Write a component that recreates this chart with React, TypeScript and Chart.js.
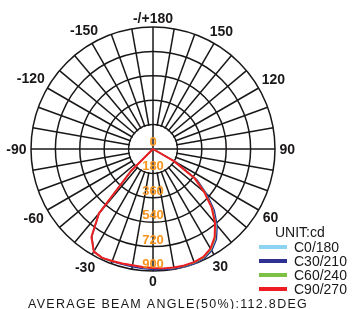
import React, { useEffect, useRef } from 'react';
import { Chart, registerables } from 'chart.js';

Chart.register(...registerables);

// Gamma angle of every radar category (0 at the bottom, negatives to the left)
const GAMMA_LABELS = [
  0, -5, -10, -15, -20, -25, -30, -35, -40, -45, -50, -55, -60, -65, -70, -75, -80, -85, -90,
  -95, -100, -105, -110, -115, -120, -125, -130, -135, -140, -145, -150, -155, -160, -165, -170, -175, -180,
  175, 170, 165, 160, 155, 150, 145, 140, 135, 130, 125, 120, 115, 110, 105, 100, 95, 90,
  85, 80, 75, 70, 65, 60, 55, 50, 45, 40, 35, 30, 25, 20, 15, 10, 5,
];

// Angle axis labels
const ANGLE_TICK_GAMMA = [0, -30, -60, -90, -120, -150, -180, 150, 120, 90, 60, 30];
const ANGLE_TICK_TEXT = ['0', '-30', '-60', '-90', '-120', '-150', '-/+180', '150', '120', '90', '60', '30'];

// Intensity axis (cd)
const RADIAL_MAX = 900;
const RADIAL_STEP = 180;

// Lit gamma ranges
const LEFT_GAMMA = [0, -5, -10, -15, -20, -25, -30, -35, -40, -45, -50];
const RIGHT_GAMMA = [5, 10, 15, 20, 25, 30, 35, 40, 45, 50, 55, 60, 65];

// Series values (cd)
const C0_LEFT = [886, 880, 876, 878, 881, 886, 872, 788, 622, 228, 0];
const C0_RIGHT = [891, 896, 898, 898, 889, 861, 808, 728, 628, 508, 388, 190, 0];
const C30_LEFT = [890, 886, 882, 882, 884, 887, 872, 786, 618, 225, 0];
const C30_RIGHT = [893, 898, 899, 899, 893, 867, 816, 738, 640, 520, 398, 198, 0];
const C60_LEFT = [880, 875, 872, 875, 880, 886, 874, 790, 626, 230, 0];
const C60_RIGHT = [886, 891, 893, 893, 884, 856, 801, 721, 621, 502, 382, 184, 0];
const C90_LEFT = [878, 873, 870, 874, 879, 886, 874, 792, 620, 232, 0];
const C90_RIGHT = [884, 888, 889, 888, 878, 848, 793, 712, 612, 492, 372, 175, 0];

const SERIES_NAMES = ['C0/180', 'C30/210', 'C60/240', 'C90/270'];
const SERIES_COLORS = ['#8dd4f2', '#2e3192', '#7cc143', '#ee1d23'];
const SERIES_WIDTHS = [1.3, 1.3, 1.3, 2];
const SERIES_ORDER = [3, 2, 1, 0];

const UNIT_TEXT = 'UNIT:cd';
const FOOTER_TEXT = 'AVERAGE BEAM ANGLE(50%):112.8DEG';

const GRID_COLOR = '#1a1718';
const GRID_WIDTH = 1.5;
const TICK_COLOR = '#f7941d';
const FONT = '"Liberation Sans", Arial, sans-serif';

function buildSeries(left: number[], right: number[]): number[] {
  return GAMMA_LABELS.map((g) => {
    if (g <= 0) {
      const k = LEFT_GAMMA.indexOf(g);
      return k >= 0 ? left[k] : 0;
    }
    const k = RIGHT_GAMMA.indexOf(g);
    return k >= 0 ? right[k] : 0;
  });
}

const polarDecor = {
  id: 'polarDecor',
  beforeDatasetsDraw(chart: any) {
    const s = chart.scales.r;
    const ctx = chart.ctx as CanvasRenderingContext2D;
    const r1 = s.getDistanceFromCenterForValue(RADIAL_STEP);
    ctx.save();
    ctx.beginPath();
    ctx.arc(s.xCenter, s.yCenter, r1 - 0.9, 0, Math.PI * 2);
    ctx.fillStyle = '#fff';
    ctx.fill();
    ctx.strokeStyle = GRID_COLOR;
    ctx.lineWidth = GRID_WIDTH;
    ctx.beginPath();
    ctx.moveTo(s.xCenter - r1, s.yCenter);
    ctx.lineTo(s.xCenter + r1, s.yCenter);
    ctx.moveTo(s.xCenter, s.yCenter - r1);
    ctx.lineTo(s.xCenter, s.yCenter + r1);
    ctx.stroke();
    ctx.restore();
  },
  afterDatasetsDraw(chart: any) {
    const s = chart.scales.r;
    const ctx = chart.ctx as CanvasRenderingContext2D;
    ctx.save();
    // intensity tick labels along the lower vertical axis
    ctx.font = `bold 13px ${FONT}`;
    ctx.fillStyle = TICK_COLOR;
    ctx.textAlign = 'center';
    ctx.textBaseline = 'alphabetic';
    s.ticks.forEach((t: any) => {
      const d = s.getDistanceFromCenterForValue(t.value);
      ctx.fillText(String(t.value), s.xCenter, s.yCenter + d - 3);
    });
    // angle labels
    ctx.font = `bold 14px ${FONT}`;
    ctx.fillStyle = GRID_COLOR;
    ANGLE_TICK_GAMMA.forEach((g, k) => {
      const i = GAMMA_LABELS.indexOf(g);
      const text = ANGLE_TICK_TEXT[k];
      const a = s.getIndexAngle(i);
      const w = ctx.measureText(text).width;
      const d = s.drawingArea + 4.5 + (w / 2) * Math.abs(Math.sin(a)) + 5 * Math.abs(Math.cos(a));
      const p = s.getPointPosition(i, d);
      ctx.fillText(text, p.x, p.y + 5);
    });
    // legend
    ctx.textAlign = 'left';
    ctx.font = `14px ${FONT}`;
    ctx.fillStyle = GRID_COLOR;
    ctx.fillText(UNIT_TEXT, 275, 236.5);
    chart.data.datasets.forEach((ds: any, k: number) => {
      const y = 247 + k * 14;
      ctx.fillStyle = ds.borderColor;
      ctx.fillRect(259, y - 2, 28, 4);
      ctx.fillStyle = GRID_COLOR;
      ctx.fillText(ds.label, 294, y + 5);
    });
    // footer
    ctx.font = `12.5px ${FONT}`;
    (ctx as any).letterSpacing = '1.3px';
    ctx.fillText(FOOTER_TEXT, 28, 308);
    ctx.restore();
  },
};

export default function App() {
  const ref = useRef<HTMLCanvasElement>(null);
  useEffect(() => {
    const seriesLeft = [C0_LEFT, C30_LEFT, C60_LEFT, C90_LEFT];
    const seriesRight = [C0_RIGHT, C30_RIGHT, C60_RIGHT, C90_RIGHT];
    const chart = new Chart(ref.current as HTMLCanvasElement, {
      type: 'radar',
      data: {
        labels: GAMMA_LABELS.map(String),
        datasets: SERIES_NAMES.map((name, k) => ({
          label: name,
          data: buildSeries(seriesLeft[k], seriesRight[k]),
          borderColor: SERIES_COLORS[k],
          backgroundColor: SERIES_COLORS[k],
          borderWidth: SERIES_WIDTHS[k],
          borderJoinStyle: 'round' as const,
          pointRadius: 0,
          pointHoverRadius: 0,
          fill: false,
          tension: 0,
          order: SERIES_ORDER[k],
        })),
      },
      options: {
        responsive: false,
        animation: false,
        events: [],
        layout: { padding: { left: 31, top: 27, right: 77, bottom: 38 } },
        scales: {
          r: {
            min: 0,
            max: RADIAL_MAX,
            startAngle: 180,
            ticks: { display: false, stepSize: RADIAL_STEP },
            pointLabels: { display: false },
            grid: { circular: true, color: GRID_COLOR, lineWidth: GRID_WIDTH },
            angleLines: {
              display: true,
              color: GRID_COLOR,
              lineWidth: (c: any) => (GAMMA_LABELS[c.index] % 10 === 0 ? GRID_WIDTH : 0),
            },
          },
        },
        plugins: {
          legend: { display: false },
          tooltip: { enabled: false },
          title: { display: false },
        },
      },
      plugins: [polarDecor],
    });
    return () => chart.destroy();
  }, []);
  return (
    <div style={{ position: 'absolute', left: 0, top: 0, width: 352, height: 309, background: '#fff' }}>
      <canvas ref={ref} width={352} height={309} style={{ display: 'block', width: 352, height: 309 }} />
    </div>
  );
}
